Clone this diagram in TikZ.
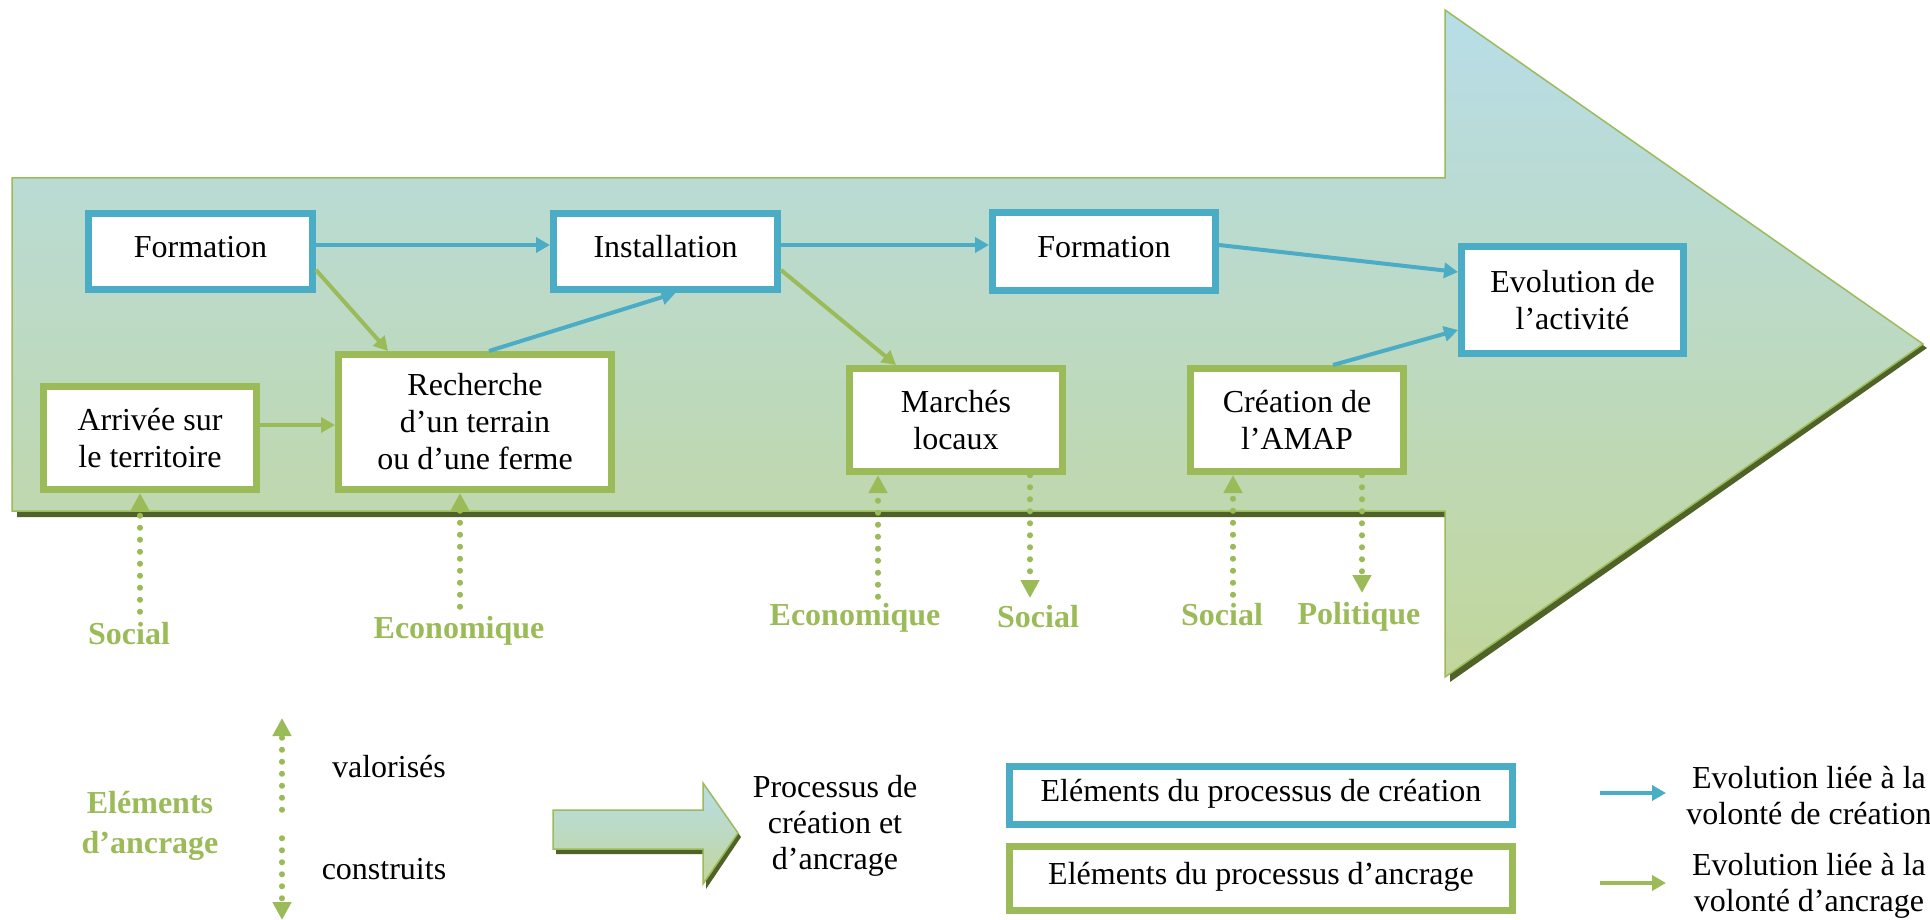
\documentclass[tikz,border=0pt]{standalone}
\usepackage{fontspec}
\setmainfont{Liberation Serif}
\usepackage{tikz}
\usetikzlibrary{arrows.meta,shapes,positioning,calc}

\definecolor{creablue}{HTML}{4BACC6}
\definecolor{ancgreen}{HTML}{9BBB59}
\definecolor{shadowgreen}{HTML}{4F6228}
\definecolor{topblue}{HTML}{B7DDE8}
\definecolor{botgreen}{HTML}{C2D69B}

\begin{document}
\begin{tikzpicture}[
        x=1pt, y=-1pt,
        creabox/.style={rectangle, draw=creablue, line width=7pt, fill=white, align=center, inner sep=0pt, font=\fontsize{32}{37}\selectfont},
        ancbox/.style={creabox, draw=ancgreen},
        % boîtes à une seule ligne : texte un peu remonté
        oneline/.style={text depth=10pt},
        creaarrow/.style={color=creablue, line width=4pt, -{Triangle[length=14pt,width=15pt]}},
        ancarrow/.style={creaarrow, color=ancgreen},
        % pointillés des éléments d'ancrage
        ancdots/.style={color=ancgreen, line width=5.5pt, line cap=round, dash pattern=on 0.5pt off 11.5pt, -{Triangle[length=18pt,width=18pt]}},
        lbl/.style={text=ancgreen, align=center, font=\fontsize{32}{40}\selectfont\bfseries},
        txt/.style={align=center, font=\fontsize{32}{36}\selectfont}
    ]
    \useasboundingbox (0,0) rectangle (1930,920);

    % --- Grande flèche du processus ---
    \fill[shadowgreen] (17,184) -- (1450,184) -- (1450,16) -- (1927,348) -- (1450,682) -- (1450,517) -- (17,517) -- cycle;
    \shade[top color=topblue, bottom color=botgreen, draw=ancgreen, line width=1.5pt]
        (12,178) -- (1445,178) -- (1445,10) -- (1923,344) -- (1445,677) -- (1445,511) -- (12,511) -- cycle;

    % --- Éléments du processus de création ---
    \node (form1) [creabox, oneline, minimum width=224pt, minimum height=76pt] at (200.5,251.5) {Formation};
    \node (inst) [creabox, oneline, minimum width=224pt, minimum height=76pt, right=234pt of form1] {Installation};
    \node (form2) [creabox, oneline, minimum width=223pt, minimum height=77pt, right=208pt of inst] {Formation};
    \node (evol) [creabox, minimum width=222pt, minimum height=107pt] at (1572.5,300) {Evolution de\\l'activité};

    % --- Éléments du processus d'ancrage ---
    \node (arrivee) [ancbox, minimum width=213pt, minimum height=103pt] at (150,438) {Arrivée sur\\le territoire};
    \node (rech) [ancbox, minimum width=273pt, minimum height=135pt] at (475,422) {Recherche\\d'un terrain\\ou d'une ferme};
    \node (marches) [ancbox, minimum width=213pt, minimum height=103pt] at (956,420) {Marchés\\locaux};
    \node (amap) [ancbox, minimum width=213pt, minimum height=103pt] at (1297,420) {Création de\\l'AMAP};

    \draw[creaarrow] ([yshift=6.5pt]form1.east) -- ([yshift=6.5pt]inst.west);
    \draw[creaarrow] ([yshift=6.5pt]inst.east) -- ([yshift=6.5pt]form2.west);
    \draw[creaarrow] ([yshift=6.5pt]form2.east) -- ([yshift=28pt]evol.west);
    \draw[creaarrow] ([xshift=14pt]rech.north) -- ([xshift=10pt]inst.south);
    \draw[creaarrow] ([xshift=36pt]amap.north) -- ([yshift=-30pt]evol.west);
    \draw[ancarrow] ([yshift=-18.5pt]form1.east) -- ([xshift=-87pt]rech.north);
    \draw[ancarrow] ([yshift=-18.5pt]inst.east) -- ([xshift=-60pt]marches.north);
    \draw[ancarrow] ([yshift=13pt]arrivee.east) -- ([yshift=13pt]arrivee.east -| rech.west);

    % --- Éléments d'ancrage (valorisés / construits) ---
    \node (socA) [lbl] at (129,634) {Social};
    \node (ecoA) [lbl] at (459,631) {Economique};
    \node (ecoB) [lbl] at (855,618) {Economique};
    \node (socB) [lbl] at (1038,617) {Social};
    \node (socC) [lbl] at (1222,615) {Social};
    \node (poli) [lbl] at (1359,617) {Politique};
    \coordinate (socAtop) at (140,612);
    \coordinate (ecoAtop) at (460,607);
    \coordinate (ecoBtop) at (878,597);
    \coordinate (socBtop) at (1030,598);
    \coordinate (socCtop) at (1233,595);
    \coordinate (politop) at (1362,593);

    \draw[ancdots] (socAtop) -- (socAtop |- arrivee.south);
    \draw[ancdots] (ecoAtop) -- (ecoAtop |- rech.south);
    \draw[ancdots] (ecoBtop) -- (ecoBtop |- marches.south);
    \draw[ancdots] (socBtop |- marches.south) -- (socBtop);
    \draw[ancdots] (socCtop) -- (socCtop |- amap.south);
    \draw[ancdots] (politop |- amap.south) -- (politop);

    % --- Légende ---
    \node (legancr) [lbl] at (150,826) {Eléments\\d'ancrage};
    \coordinate (legup1) at (282,810);
    \coordinate (legup2) at (282,718);
    \coordinate (legdown1) at (282,838);
    \coordinate (legdown2) at (282,920);
    \draw[ancdots] (legup1) -- (legup2);
    \draw[ancdots] (legdown1) -- (legdown2);
    \node (valo) [txt] at (389,767) {valorisés};
    \node (constr) [txt] at (384,869) {construits};

    \fill[shadowgreen] (556,815) -- (706,815) -- (706,788) -- (741,837) -- (706,889) -- (706,854) -- (556,854) -- cycle;
    \shade[top color=topblue, bottom color=botgreen, draw=ancgreen, line width=1.5pt]
        (553,810) -- (703,810) -- (703,783) -- (738,833) -- (703,884) -- (703,849) -- (553,849) -- cycle;
    \node (proc) [txt] at (835,826) {Processus de\\création et\\d'ancrage};

    \node (legcrea) [creabox, oneline, minimum width=503pt, minimum height=58pt] at (1261,795.5) {Eléments du processus de création};
    \node (legancb) [ancbox, oneline, minimum width=503pt, minimum height=64pt] at (1261,878.5) {Eléments du processus d'ancrage};

    \coordinate (evcrea1) at (1600,793);
    \coordinate (evcrea2) at (1666,793);
    \coordinate (evanc1) at (1600,883);
    \coordinate (evanc2) at (1666,883);
    \draw[creaarrow] (evcrea1) -- (evcrea2);
    \draw[ancarrow] (evanc1) -- (evanc2);
    \node (evcrea) [txt] at (1809,796) {Evolution liée à la\\volonté de création};
    \node (evanc) [txt] at (1809,886) {Evolution liée à la\\volonté d'ancrage};

\end{tikzpicture}
\end{document}
